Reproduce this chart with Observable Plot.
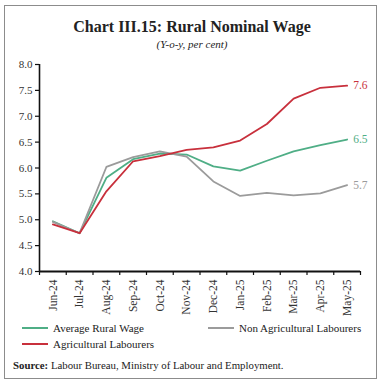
<!DOCTYPE html>
<html>
<head>
<meta charset="utf-8">
<script src="https://cdn.jsdelivr.net/npm/d3@7"></script>
<script src="https://cdn.jsdelivr.net/npm/@observablehq/plot@0.6"></script>
<style>
  html, body { margin: 0; padding: 0; background: #fff; }
  #wrap { position: relative; width: 384px; height: 385px; font-family: "Liberation Serif", "DejaVu Serif", serif; color: #222; overflow: hidden; }
  #box { position: absolute; left: 4px; top: 5px; width: 373px; height: 374px; box-sizing: border-box; border: 1.5px solid #8c8c8c; }
  #title { position: absolute; left: 0; width: 384px; top: 17px; text-align: center; font-size: 16px; font-weight: bold; line-height: 20px; }
  #sub { position: absolute; left: 0; width: 384px; top: 38px; text-align: center; font-size: 11px; font-style: italic; line-height: 12px; }
  #chart { position: absolute; left: 0; top: 50px; }
  .leg { position: absolute; font-size: 11px; line-height: 12px; }
  .sw { position: absolute; height: 0; border-top: 2px solid; width: 26px; }
  #src { position: absolute; left: 13px; top: 359px; font-size: 10.8px; line-height: 12px; }
</style>
</head>
<body>
<div id="wrap">
  <div id="box"></div>
  <div id="title">Chart III.15: Rural Nominal Wage</div>
  <div id="sub">(Y-o-y, per cent)</div>
  <div id="chart"></div>
  <div id="legend"></div>
  <div id="src"><b>Source:</b> Labour Bureau, Ministry of Labour and Employment.</div>
</div>
<script>
const months = ["Jun-24","Jul-24","Aug-24","Sep-24","Oct-24","Nov-24","Dec-24","Jan-25","Feb-25","Mar-25","Apr-25","May-25"];
const avgRural = [4.97, 4.74, 5.81, 6.17, 6.28, 6.26, 6.03, 5.95, 6.14, 6.32, 6.44, 6.55];
const nonAgri  = [4.96, 4.74, 6.02, 6.21, 6.32, 6.22, 5.74, 5.46, 5.52, 5.47, 5.51, 5.67];
const agri     = [4.91, 4.74, 5.55, 6.13, 6.23, 6.35, 6.40, 6.53, 6.85, 7.34, 7.55, 7.59];
const seriesNames = ["Average Rural Wage", "Non Agricultural Labourers", "Agricultural Labourers"];
const seriesColors = ["#4fae86", "#9b9b9b", "#c8303c"];
const yTicks = [4.0, 4.5, 5.0, 5.5, 6.0, 6.5, 7.0, 7.5, 8.0];

const seriesValues = [avgRural, nonAgri, agri];
const data = [];
seriesValues.forEach((vals, s) => vals.forEach((v, i) => data.push({i, v, s: seriesNames[s]})));
const last = data.filter(d => d.i === months.length - 1);
const bounds = months.map((_, i) => i - 0.5).concat([months.length - 0.5]);
const color = {domain: seriesNames, range: seriesColors};

const chart = Plot.plot({
  width: 384,
  height: 266,
  marginTop: 14,
  marginBottom: 45,
  marginLeft: 39,
  marginRight: 24,
  style: {fontFamily: "'Liberation Serif', serif", fontSize: "11px", color: "#333", background: "transparent"},
  x: {type: "linear", domain: [-0.5, months.length - 0.5]},
  y: {domain: [4, 8]},
  color,
  marks: [
    Plot.axisY({ticks: yTicks, tickFormat: d3.format(".1f"), tickSize: 4, tickPadding: 3, label: null, stroke: "#111", strokeWidth: 1.2}),
    Plot.axisX({ticks: bounds, tickFormat: () => "", tickSize: 4, label: null, stroke: "#111", strokeWidth: 1.2}),
    Plot.axisX({ticks: months.map((_, i) => i), tickFormat: i => months[i], tickSize: 0, tickPadding: 8, tickRotate: -90, fontSize: 11.5, label: null}),
    Plot.ruleX([-0.5], {stroke: "#111", strokeWidth: 1.6}),
    Plot.ruleY([4], {stroke: "#111", strokeWidth: 1.8}),
    Plot.line(data, {x: "i", y: "v", z: "s", stroke: "s", strokeWidth: 1.8}),
    Plot.text(last, {x: "i", y: "v", text: d => d.v.toFixed(1), fill: "s", dx: 6, textAnchor: "start", fontSize: 11.5})
  ]
});
document.getElementById("chart").appendChild(chart);

const legendPos = [[22, 322], [208, 322], [22, 338]];
const legend = document.getElementById("legend");
seriesNames.forEach((name, k) => {
  const [lx, ly] = legendPos[k];
  const sw = document.createElement("div");
  sw.className = "sw";
  sw.style.left = lx + "px";
  sw.style.top = (ly + 5) + "px";
  sw.style.borderTopColor = seriesColors[k];
  legend.appendChild(sw);
  const t = document.createElement("div");
  t.className = "leg";
  t.style.left = (lx + 31) + "px";
  t.style.top = ly + "px";
  t.textContent = name;
  legend.appendChild(t);
});
</script>
</body>
</html>
